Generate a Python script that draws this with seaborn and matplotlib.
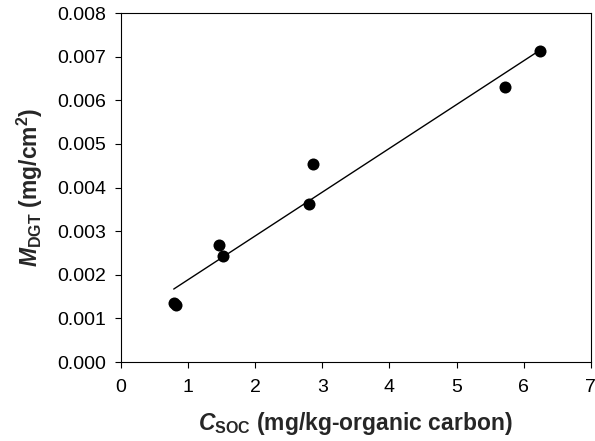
import numpy as np
import pandas as pd
import seaborn as sns
import matplotlib
matplotlib.use('Agg')
import matplotlib.pyplot as plt

# values
c_soc = [0.79, 0.82, 1.46, 1.52, 2.80, 2.86, 5.72, 6.24]
m_dgt = [0.00135, 0.00130, 0.00268, 0.00242, 0.00362, 0.00455, 0.00630, 0.00712]
x_ticks = [0, 1, 2, 3, 4, 5, 6, 7]
y_ticks = [0.000, 0.001, 0.002, 0.003, 0.004, 0.005, 0.006, 0.007, 0.008]

df = pd.DataFrame({'C_SOC': c_soc, 'M_DGT': m_dgt})

sns.set_style('ticks')
plt.rcParams['font.family'] = ['Liberation Sans', 'DejaVu Sans']
plt.rcParams['mathtext.fontset'] = 'custom'
plt.rcParams['mathtext.rm'] = 'Liberation Sans:bold'
plt.rcParams['mathtext.bf'] = 'Liberation Sans:bold'
plt.rcParams['mathtext.it'] = 'Liberation Sans:bold:italic'

fig = plt.figure(figsize=(5.95, 4.41), dpi=100)
ax = fig.add_axes([0.2028, 0.179, 0.7902, 0.7915])

# fitted line over the data range
sns.regplot(data=df, x='C_SOC', y='M_DGT', ci=None, ax=ax, scatter=False,
            line_kws={'color': 'black', 'lw': 1.0})
sns.scatterplot(data=df, x='C_SOC', y='M_DGT', ax=ax, color='black', s=75,
                edgecolor='black', linewidth=0, zorder=3)

ax.set_xlim(0, 7)
ax.set_ylim(0, 0.008)
ax.set_xticks(x_ticks)
ax.set_yticks(y_ticks)
ax.set_yticklabels([f'{v:.3f}' for v in y_ticks])
ax.tick_params(labelsize=14, length=4.5, width=0.8, direction='out', colors='black')
ax.tick_params(axis='y', pad=6)
ax.tick_params(axis='x', pad=8)
for sp in ax.spines.values():
    sp.set_visible(True)
    sp.set_linewidth(0.8)
    sp.set_color('black')

ax.set_xlabel(r'$\mathit{C}_{\mathrm{SOC}}$ (mg/kg-organic carbon)',
              fontsize=16.5, fontweight='bold', labelpad=10)
ax.set_ylabel(r'$\mathit{M}_{\mathrm{DGT}}$ (mg/cm$^{\mathrm{2}}$)',
              fontsize=16.5, fontweight='bold', labelpad=9)

fig.savefig('out.png', dpi=100)
